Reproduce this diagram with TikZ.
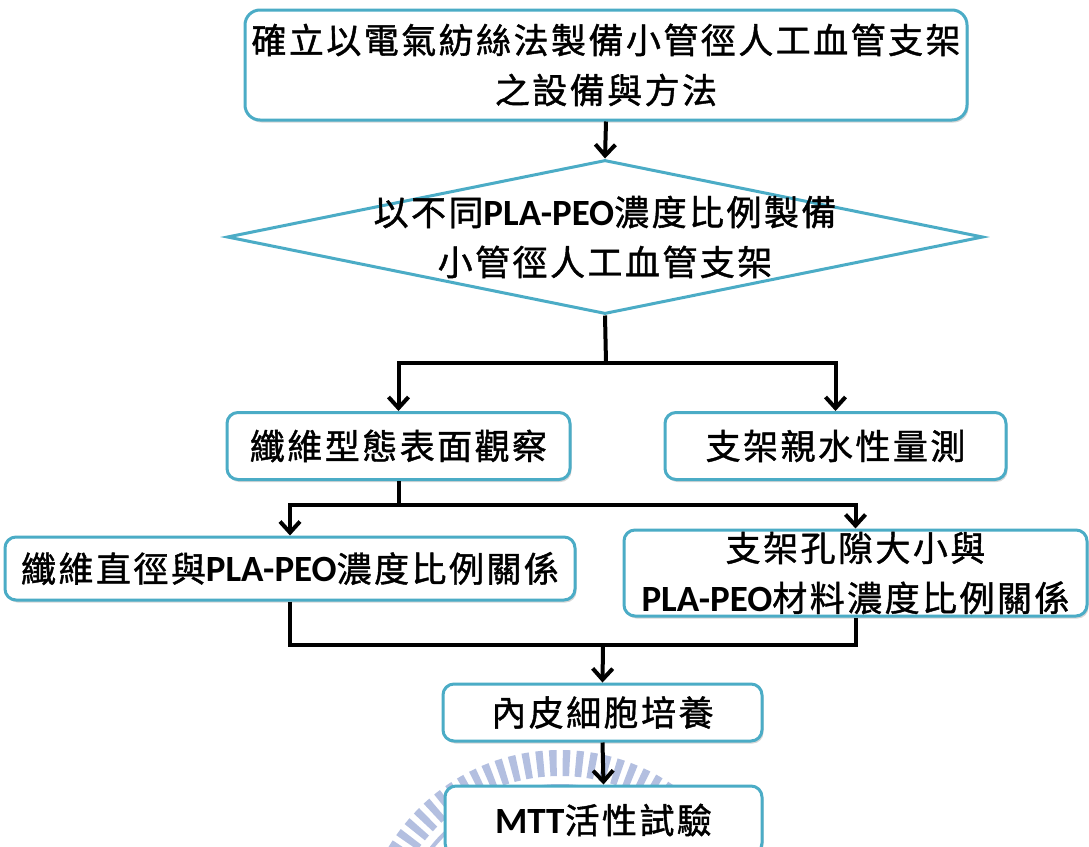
\documentclass[tikz,border=0pt]{standalone}
\usepackage{fontspec}
\newfontfamily\cjk[LetterSpace=7,FakeBold=1.2]{Noto Sans CJK TC}
\newfontfamily\latf{Carlito}
\usetikzlibrary{arrows.meta,shadows,shapes.geometric}
\definecolor{boxc}{HTML}{4BACC6}
\definecolor{wmc}{HTML}{B3BFE0}
\newcommand\pl[1]{{\latf\bfseries\fontsize{37}{50}\selectfont #1}}
\tikzset{
  box/.style={draw=boxc, line width=3pt, rounded corners=11pt, fill=white,
    drop shadow={shadow xshift=1.5pt, shadow yshift=-2.5pt, fill=black!35, opacity=.45},
    inner sep=0pt, align=center, font=\cjk\fontsize{35}{50}\selectfont},
  line/.style={draw=black, line width=4pt},
  arr/.style={line, -{Straight Barb[length=11pt,width=20pt,line width=4pt]}},
}
\begin{document}
\begin{tikzpicture}[x=1pt,y=-1pt]
\clip (0,0) rectangle (1089,846);
\fill[white] (0,0) rectangle (1089,846);
% watermark
\draw[wmc, line width=26pt, dash pattern=on 7pt off 6pt] (560,950) circle (187);
\draw[wmc, line width=4pt] (560,950) circle (164);
% nodes
\node[box, minimum width=722pt, minimum height=110pt, rounded corners=15pt] (top) at (606,65)
  {確立以電氣紡絲法製備小管徑人工血管支架\\之設備與方法};
\node[diamond, draw=boxc, line width=3pt, fill=white, inner sep=0pt,
  minimum width=756pt, minimum height=154pt] (d) at (605,237) {};
\node[align=center, inner sep=0pt, font=\cjk\fontsize{35}{50}\selectfont] (dt) at (d.center)
  {以不同\pl{PLA-PEO}濃度比例製備\\小管徑人工血管支架};
\node[box, minimum width=343pt, minimum height=67pt] (b1) at (398.5,446) {纖維型態表面觀察};
\node[box, minimum width=341pt, minimum height=67pt] (b2) at (835.5,446) {支架親水性量測};
\node[box, minimum width=570pt, minimum height=63pt] (b3) at (290,568.5) {纖維直徑與\pl{PLA-PEO}濃度比例關係};
\node[box, minimum width=463pt, minimum height=86pt] (b4) at (855.5,573) {支架孔隙大小與\\\pl{PLA-PEO}材料濃度比例關係};
\node[box, minimum width=319pt, minimum height=57pt] (b5) at (602.5,712.5) {內皮細胞培養};
\node[box, minimum width=317pt, minimum height=68pt] (b6) at (603.5,820) {\pl{MTT}活性試驗};
% connectors
\coordinate (j1) at (606,363);
\coordinate (j2) at (398.5,505);
\coordinate (j3) at (603,645);
\draw[arr] (top.south) -- (d.north);
\draw[line] (d.south) -- (j1);
\draw[arr] (j1) -| (b1.north);
\draw[arr] (j1) -| (b2.north);
\draw[line] (b1.south) -- (j2);
\draw[arr] (j2) -| (b3.north);
\draw[arr] (j2) -| (b4.north);
\draw[line] (b3.south) |- (j3) -| (b4.south);
\draw[arr] (j3) -- (b5.north);
\draw[arr] (b5.south) -- (b6.north);
\end{tikzpicture}
\end{document}
